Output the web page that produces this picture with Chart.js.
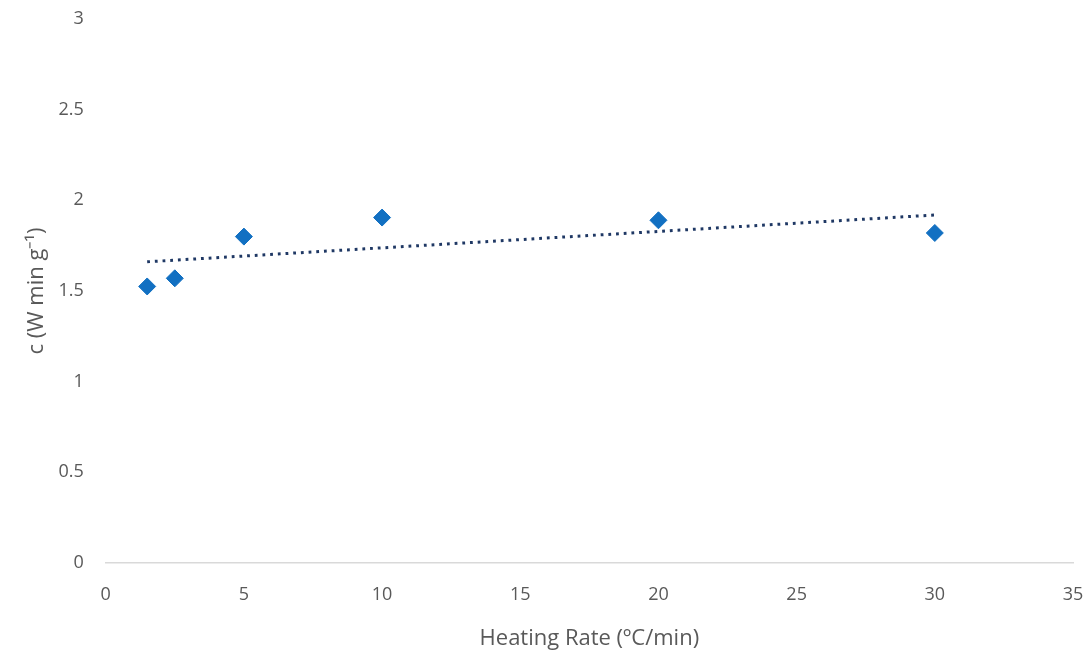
<!DOCTYPE html>
<html>
<head>
<meta charset="utf-8">
<script src="https://cdn.jsdelivr.net/npm/chart.js@4/dist/chart.umd.min.js"></script>
<style>
  html, body { margin: 0; padding: 0; background: #fff; }
  #wrap { width: 1091px; height: 653px; }
</style>
</head>
<body>
<div id="wrap"><canvas id="chart" width="1091" height="653"></canvas></div>
<script>
// Heating rate (ºC/min) and measured c values
const heatingRates = [1.5, 2.5, 5, 10, 20, 30];
const cValues = [1.525, 1.57, 1.80, 1.905, 1.89, 1.82];

const xTicks = [0, 5, 10, 15, 20, 25, 30, 35];
const yTicks = [0, 0.5, 1, 1.5, 2, 2.5, 3];

// Least-squares linear trendline over the measured points
function linearFit(xs, ys) {
    const n = xs.length;
    const mx = xs.reduce((a, b) => a + b, 0) / n;
    const my = ys.reduce((a, b) => a + b, 0) / n;
    let sxy = 0, sxx = 0;
    for (let i = 0; i < n; i++) {
        sxy += (xs[i] - mx) * (ys[i] - my);
        sxx += (xs[i] - mx) * (xs[i] - mx);
    }
    const slope = sxy / sxx;
    return { slope: slope, intercept: my - slope * mx };
}

const fit = linearFit(heatingRates, cValues);
const xFirst = heatingRates[0];
const xLast = heatingRates[heatingRates.length - 1];
const trendPoints = [
    { x: xFirst, y: fit.intercept + fit.slope * xFirst },
    { x: xLast, y: fit.intercept + fit.slope * xLast }
];

const FONT = '"Open Sans", "Liberation Sans", sans-serif';
const TICK_COLOR = '#595959';

const ctx = document.getElementById('chart').getContext('2d');
new Chart(ctx, {
    type: 'scatter',
    data: {
        datasets: [
            {
                label: 'Trend',
                type: 'line',
                data: trendPoints,
                borderColor: '#1f3864',
                borderWidth: 3,
                borderDash: [2.8, 4.9],
                pointRadius: 0,
                fill: false,
                order: 0
            },
            {
                label: 'c',
                data: heatingRates.map((x, i) => ({ x: x, y: cValues[i] })),
                pointStyle: 'rectRot',
                pointRadius: 8.5,
                backgroundColor: '#1270c2',
                borderColor: '#1270c2',
                borderWidth: 1,
                order: 1
            }
        ]
    },
    options: {
        responsive: false,
        animation: false,
        layout: { padding: { top: 19, right: 18, bottom: 1, left: 24 } },
        plugins: {
            legend: { display: false },
            tooltip: { enabled: false }
        },
        scales: {
            x: {
                type: 'linear',
                min: 0,
                max: 35,
                afterBuildTicks: axis => { axis.ticks = xTicks.map(v => ({ value: v })); },
                // hidden tick marks give the label gap without extra side padding
                grid: { display: false, drawTicks: true, tickLength: 19 },
                border: { display: true, color: '#d9d9d9', width: 1.5 },
                ticks: {
                    color: TICK_COLOR,
                    padding: 2,
                    font: { family: FONT, size: 18 }
                },
                title: {
                    display: true,
                    text: 'Heating Rate (ºC/min)',
                    color: TICK_COLOR,
                    padding: { top: 18, bottom: 0 },
                    font: { family: FONT, size: 22 }
                }
            },
            y: {
                type: 'linear',
                min: 0,
                max: 3,
                afterBuildTicks: axis => { axis.ticks = yTicks.map(v => ({ value: v })); },
                grid: { display: false, drawTicks: true, tickLength: 20 },
                border: { display: false },
                ticks: {
                    color: TICK_COLOR,
                    padding: 2,
                    font: { family: FONT, size: 18 },
                    callback: v => String(v)
                },
                title: {
                    display: true,
                    text: 'c (W min g⁻¹)',
                    color: TICK_COLOR,
                    padding: { top: 0, bottom: 6 },
                    font: { family: FONT, size: 22 }
                }
            }
        }
    }
});
</script>
</body>
</html>
